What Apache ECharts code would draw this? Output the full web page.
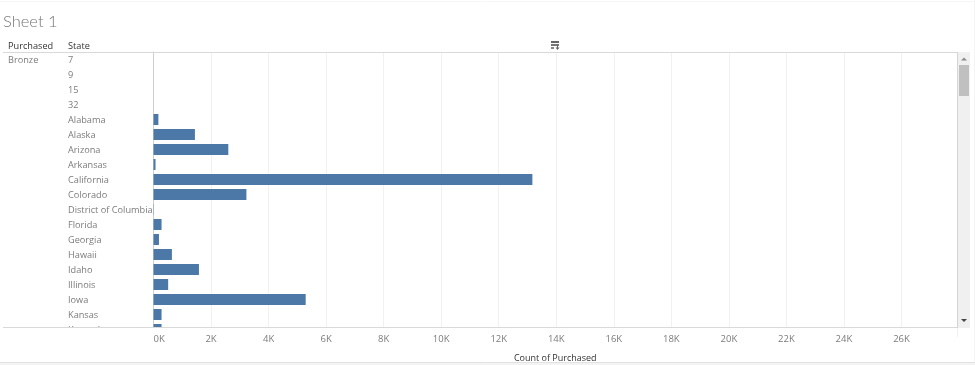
<!DOCTYPE html>
<html><head><meta charset="utf-8">
<style>html,body{margin:0;padding:0;background:#fff}#c{width:975px;height:365px}</style>
<script src="https://cdn.jsdelivr.net/npm/echarts@6/dist/echarts.min.js"></script>
</head><body><div id="c"></div>
<script>
const states = ['7','9','15','32','Alabama','Alaska','Arizona','Arkansas','California','Colorado','District of Columbia','Florida','Georgia','Hawaii','Idaho','Illinois','Iowa','Kansas','Kentucky'];
const counts = [0,0,0,0,170,1440,2600,70,13170,3230,10,280,190,640,1580,510,5290,280,280];
const xTickStep = 2000;
const xMax = 27930;
const FONT = '"Open Sans"';
const LBL = '#7b7b7b';
const DARK = '#333333';
const COVER_Z = 50;
const chart = echarts.init(document.getElementById('c'), null, {renderer:'canvas'});
function line(x1,y1,x2,y2,c,w){return {type:'line',z:COVER_Z+1,silent:true,shape:{x1,y1,x2,y2},style:{stroke:c,lineWidth:w||1}};}
function rect(x,y,width,height,c){return {type:'rect',z:COVER_Z+1,silent:true,shape:{x,y,width,height},style:{fill:c}};}
function tri(pts,c){return {type:'polygon',z:COVER_Z+2,silent:true,shape:{points:pts},style:{fill:c}};}
function txt(x,y,t,c,size,align){return {type:'text',z:COVER_Z+2,silent:true,x,y,style:{text:t,fill:c,font:size+'px '+FONT,textAlign:align||'left',textVerticalAlign:'middle'}};}
chart.setOption({
  animation:false,
  backgroundColor:'#ffffff',
  title:{text:'Sheet 1',left:-2,top:8,textStyle:{fontFamily:'Lato',fontWeight:300,fontSize:16.5,color:'#757575'}},
  grid:{left:153.5,top:52,width:803.5,height:285,containLabel:false,outerBoundsMode:'none'},
  xAxis:[
    {type:'value',position:'bottom',min:0,max:xMax,interval:xTickStep,
     axisLine:{show:false},axisTick:{show:false},axisLabel:{show:false},
     splitLine:{show:true,lineStyle:{color:'#f1f1f1',width:1}}},
    {type:'value',position:'bottom',min:0,max:xMax,interval:xTickStep,z:COVER_Z+5,
     axisLine:{show:false},axisTick:{show:false},splitLine:{show:false},
     axisLabel:{margin:-3,fontFamily:FONT,fontSize:9.5,color:LBL,showMaxLabel:false,alignMinLabel:'left',
       formatter:v=>(v/1000)+'K'},
     name:'Count of Purchased',nameLocation:'middle',nameGap:17,
     nameTextStyle:{fontFamily:FONT,fontSize:9,color:DARK}}
  ],
  yAxis:{type:'category',inverse:true,data:states,
    axisLine:{show:true,lineStyle:{color:'#cfcfcf'}},axisTick:{show:false},splitLine:{show:false},
    axisLabel:{interval:0,align:'left',margin:85.5,fontFamily:FONT,fontSize:9.2,color:LBL,
      formatter:v=>'{a|'+v+'}',
      rich:{a:{padding:[2,0,0,0],fontFamily:FONT,fontSize:9.2,color:LBL}}}},
  series:[{type:'bar',xAxisIndex:0,data:counts,barWidth:11,itemStyle:{color:'#4c78a8'},silent:true,z:3}],
  graphic:{elements:[
    rect(0,328,957,20,'#ffffff'),
    line(3,52.5,957,52.5,'#d9d9d9'),
    line(3,327.5,957,327.5,'#d9d9d9'),
    line(957.5,52,957.5,328,'#d4d4d4'),
    line(0,1.5,975,1.5,'#f6f6f6'),
    line(974.5,0,974.5,362,'#f4f4f4'),
    rect(0,362,975,3,'#f3f3f3'),
    line(0,362.5,975,362.5,'#e2e2e2'),
    rect(958,52,12,276,'#f0f0f0'),
    rect(959,65,10,31,'#c0c0c0'),
    tri([[961,60.5],[964,57.5],[967,60.5]],'#8a8a8a'),
    tri([[961,319],[964,322],[967,319]],'#444444'),
    txt(8,46,'Purchased',DARK,9.2),
    txt(68,46,'State',DARK,9.2),
    txt(8,60,'Bronze',LBL,9.2),
    rect(551,41,8,2,'#666666'),
    rect(551,44,8,2,'#777777'),
    rect(551,47,3,2,'#888888'),
    rect(557,45,1,4,'#666666'),
    tri([[555.5,47.5],[559.5,47.5],[557.5,50]],'#666666')
  ]}
});
</script></body></html>
